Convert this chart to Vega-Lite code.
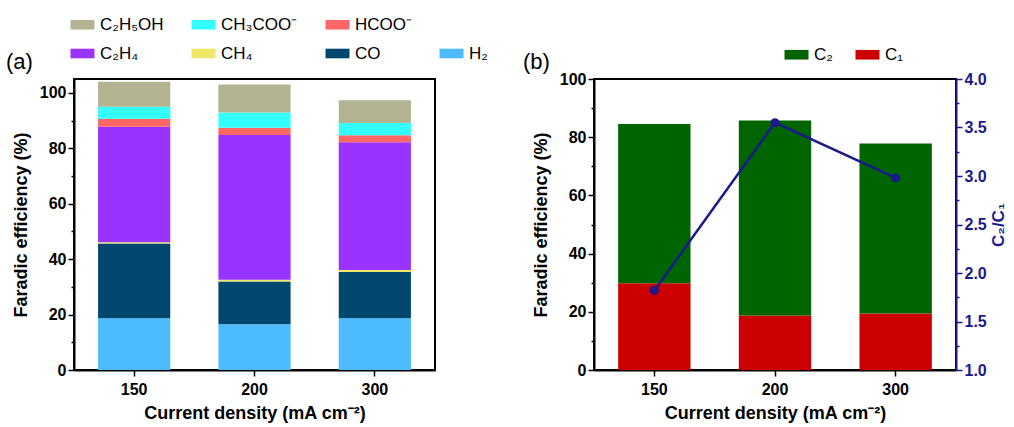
{
  "$schema": "https://vega.github.io/schema/vega-lite/v6.json",
  "background": "white",
  "padding": {"left": 5, "top": 15, "right": 0, "bottom": 2},
  "bounds": "flush",
  "spacing": 159,
  "config": {
    "font": "Liberation Sans",
    "view": {"stroke": "black", "strokeWidth": 2},
    "axis": {
      "labelFont": "Liberation Sans", "labelFontSize": 16, "labelFontWeight": "bold", "labelColor": "black",
      "titleFont": "Liberation Sans", "titleFontSize": 18, "titleFontWeight": "bold", "titleColor": "black",
      "domainColor": "black", "domainWidth": 2, "tickColor": "black", "tickWidth": 1.5, "grid": false
    },
    "legend": {"labelFont": "Liberation Sans", "labelFontSize": 17, "labelColor": "black"},
    "title": {"font": "Liberation Sans", "fontSize": 22, "fontWeight": "normal", "color": "black"}
  },
  "datasets": {
    "fe": [
      {"density": "150", "product": "H₂", "order": 1, "fe": 18.7},
      {"density": "150", "product": "CO", "order": 2, "fe": 26.9},
      {"density": "150", "product": "CH₄", "order": 3, "fe": 0.5},
      {"density": "150", "product": "C₂H₄", "order": 4, "fe": 41.7},
      {"density": "150", "product": "HCOO⁻", "order": 5, "fe": 2.9},
      {"density": "150", "product": "CH₃COO⁻", "order": 6, "fe": 4.3},
      {"density": "150", "product": "C₂H₅OH", "order": 7, "fe": 9.0},
      {"density": "200", "product": "H₂", "order": 1, "fe": 16.5},
      {"density": "200", "product": "CO", "order": 2, "fe": 15.4},
      {"density": "200", "product": "CH₄", "order": 3, "fe": 0.7},
      {"density": "200", "product": "C₂H₄", "order": 4, "fe": 52.2},
      {"density": "200", "product": "HCOO⁻", "order": 5, "fe": 2.6},
      {"density": "200", "product": "CH₃COO⁻", "order": 6, "fe": 5.5},
      {"density": "200", "product": "C₂H₅OH", "order": 7, "fe": 10.1},
      {"density": "300", "product": "H₂", "order": 1, "fe": 18.7},
      {"density": "300", "product": "CO", "order": 2, "fe": 16.7},
      {"density": "300", "product": "CH₄", "order": 3, "fe": 0.7},
      {"density": "300", "product": "C₂H₄", "order": 4, "fe": 46.1},
      {"density": "300", "product": "HCOO⁻", "order": 5, "fe": 2.5},
      {"density": "300", "product": "CH₃COO⁻", "order": 6, "fe": 4.4},
      {"density": "300", "product": "C₂H₅OH", "order": 7, "fe": 8.2}
    ],
    "cgroups": [
      {"density": "150", "group": "C₁", "order": 1, "fe": 29.8},
      {"density": "150", "group": "C₂", "order": 2, "fe": 54.7},
      {"density": "200", "group": "C₁", "order": 1, "fe": 18.7},
      {"density": "200", "group": "C₂", "order": 2, "fe": 67.0},
      {"density": "300", "group": "C₁", "order": 1, "fe": 19.4},
      {"density": "300", "group": "C₂", "order": 2, "fe": 58.4}
    ],
    "ratio": [
      {"density": "150", "ratio": 1.82},
      {"density": "200", "ratio": 3.55},
      {"density": "300", "ratio": 2.98}
    ]
  },
  "hconcat": [
    {
      "width": 361,
      "height": 291,
      "title": {"text": "(a)", "anchor": "start", "frame": "group", "dx": -68, "offset": 0, "dy": 58},
      "data": {"name": "fe"},
      "mark": {"type": "bar"},
      "encoding": {
        "x": {
          "field": "density", "type": "ordinal", "sort": ["150", "200", "300"],
          "scale": {"paddingInner": 0.4, "paddingOuter": 0.2},
          "axis": {"title": "Current density (mA cm⁻²)", "labelAngle": 0, "titlePadding": 7, "tickSize": 6, "labelPadding": 5}
        },
        "y": {
          "field": "fe", "type": "quantitative", "stack": "zero",
          "scale": {"domain": [0, 105], "nice": false},
          "axis": {
            "title": "Faradic efficiency (%)",
            "values": [0, 10, 20, 30, 40, 50, 60, 70, 80, 90, 100],
            "labelExpr": "datum.value % 20 === 0 ? datum.label : ''",
            "labelOverlap": false,
            "tickSize": {"condition": {"test": "datum.value % 20 === 0", "value": 6}, "value": 3},
            "titlePadding": 9
          }
        },
        "color": {
          "field": "product", "type": "nominal",
          "scale": {
            "domain": ["C₂H₅OH", "C₂H₄", "CH₃COO⁻", "CH₄", "HCOO⁻", "CO", " ", "H₂"],
            "range": ["#B3B392", "#9933FF", "#33FFFF", "#F0E868", "#FF6666", "#004770", "#FFFFFF", "#4DBBFF"]
          },
          "legend": {
            "title": null, "orient": "none", "legendX": 0, "legendY": -63,
            "columns": 4, "direction": "vertical", "symbolType": "M-1.5,-0.6L1.5,-0.6L1.5,0.6L-1.5,0.6Z",
            "symbolSize": 256, "symbolStrokeWidth": 0, "symbolOpacity": 1,
            "rowPadding": 11, "columnPadding": 27, "labelOffset": 9
          }
        },
        "order": {"field": "order", "type": "quantitative"}
      }
    },
    {
      "width": 362,
      "height": 291,
      "title": {"text": "(b)", "anchor": "start", "frame": "group", "dx": -71, "offset": 0, "dy": 28},
      "layer": [
        {
          "data": {"name": "cgroups"},
          "mark": {"type": "bar"},
          "encoding": {
            "x": {
              "field": "density", "type": "ordinal", "sort": ["150", "200", "300"],
              "scale": {"paddingInner": 0.4, "paddingOuter": 0.2},
              "axis": {"title": "Current density (mA cm⁻²)", "labelAngle": 0, "titlePadding": 7, "tickSize": 6, "labelPadding": 5}
            },
            "y": {
              "field": "fe", "type": "quantitative", "stack": "zero",
              "scale": {"domain": [0, 100], "nice": false},
              "axis": {
                "orient": "left",
                "title": "Faradic efficiency (%)",
                "values": [0, 10, 20, 30, 40, 50, 60, 70, 80, 90, 100],
                "labelExpr": "datum.value % 20 === 0 ? datum.label : ''",
                "labelOverlap": false,
                "tickSize": {"condition": {"test": "datum.value % 20 === 0", "value": 6}, "value": 3},
                "titlePadding": 9
              }
            },
            "color": {
              "field": "group", "type": "nominal",
              "scale": {"domain": ["C₂", "C₁"], "range": ["#006400", "#CC0000"]},
              "legend": {
                "title": null, "orient": "none", "legendX": 194, "legendY": -33,
                "direction": "horizontal", "symbolType": "M-1.5,-0.6L1.5,-0.6L1.5,0.6L-1.5,0.6Z",
                "symbolSize": 256, "symbolStrokeWidth": 0, "symbolOpacity": 1,
                "columnPadding": 22, "labelOffset": 9
              }
            },
            "order": {"field": "order", "type": "quantitative"}
          }
        },
        {
          "data": {"name": "ratio"},
          "mark": {"type": "line", "color": "#1A1A8C", "strokeWidth": 2.5, "point": {"filled": true, "size": 80, "color": "#1A1A8C"}},
          "encoding": {
            "x": {"field": "density", "type": "ordinal", "sort": ["150", "200", "300"]},
            "y": {
              "field": "ratio", "type": "quantitative",
              "scale": {"domain": [1, 4], "nice": false},
              "axis": {
                "orient": "right",
                "title": "C₂/C₁",
                "titleAngle": 270,
                "titleBaseline": "top",
                "values": [1, 1.25, 1.5, 1.75, 2, 2.25, 2.5, 2.75, 3, 3.25, 3.5, 3.75, 4],
                "format": ".1f",
                "labelExpr": "(datum.value * 2) % 1 === 0 ? datum.label : ''",
                "labelOverlap": false,
                "tickSize": {"condition": {"test": "(datum.value * 2) % 1 === 0", "value": 6}, "value": 3},
                "domainColor": "#1A1A8C", "tickColor": "#1A1A8C", "labelColor": "#1A1A8C", "titleColor": "#1A1A8C",
                "titleFontSize": 17, "titlePadding": 4
              }
            }
          }
        }
      ],
      "resolve": {"scale": {"y": "independent", "color": "independent"}}
    }
  ],
  "resolve": {"scale": {"color": "independent"}}
}
